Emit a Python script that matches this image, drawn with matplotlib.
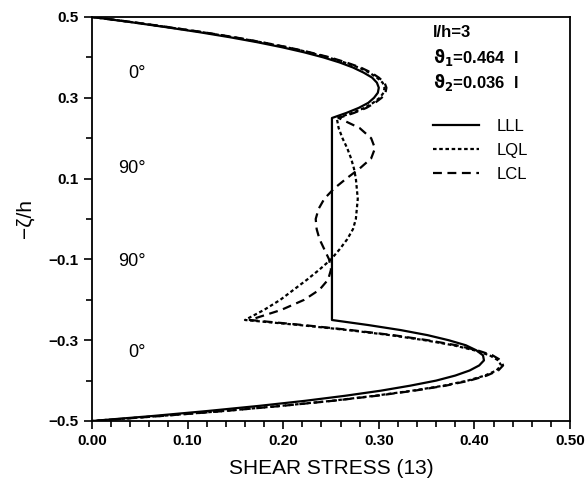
import numpy as np
import matplotlib
matplotlib.use("Agg")
from matplotlib import pyplot as plt
from matplotlib.ticker import MultipleLocator

plt.rcParams['font.family'] = ['Liberation Sans', 'DejaVu Sans']
plt.rcParams['mathtext.fontset'] = 'dejavusans'

# through-thickness coordinate -zeta/h, one array per layer group
y_top = [0.5, 0.4875, 0.475, 0.4625, 0.45, 0.4375, 0.425, 0.4125, 0.4, 0.3875,
         0.375, 0.3625, 0.35, 0.3375, 0.325, 0.3125, 0.3, 0.2875, 0.275, 0.2625, 0.25]
y_mid = [0.25, 0.225, 0.2, 0.175, 0.15, 0.125, 0.1, 0.075, 0.05, 0.025, 0.0,
         -0.025, -0.05, -0.075, -0.1, -0.125, -0.15, -0.175, -0.2, -0.225, -0.25]
y_bot = [-0.25, -0.2625, -0.275, -0.2875, -0.3, -0.3125, -0.325, -0.3375, -0.35, -0.3625,
         -0.375, -0.3875, -0.4, -0.4125, -0.425, -0.4375, -0.45, -0.4625, -0.475, -0.4875, -0.5]

# shear stress (13), LLL model
lll_top = [0.0, 0.040, 0.077, 0.112, 0.144, 0.173, 0.199, 0.222, 0.242, 0.259,
           0.273, 0.284, 0.293, 0.298, 0.300, 0.299, 0.295, 0.289, 0.279, 0.266, 0.251]
lll_mid = [0.251, 0.251, 0.251, 0.251, 0.251, 0.251, 0.251, 0.251, 0.251, 0.251, 0.251,
           0.251, 0.251, 0.251, 0.251, 0.251, 0.251, 0.251, 0.251, 0.251, 0.251]
lll_bot = [0.251, 0.289, 0.323, 0.351, 0.373, 0.391, 0.402, 0.409, 0.410, 0.405,
           0.395, 0.380, 0.360, 0.333, 0.302, 0.265, 0.223, 0.175, 0.122, 0.064, 0.0]

# LQL model
lql_top = [0.0, 0.041, 0.079, 0.115, 0.148, 0.177, 0.204, 0.227, 0.247, 0.264,
           0.279, 0.290, 0.298, 0.304, 0.306, 0.305, 0.301, 0.294, 0.285, 0.272, 0.256]
lql_mid = [0.256, 0.258, 0.262, 0.267, 0.271, 0.274, 0.276, 0.277, 0.278, 0.277, 0.276,
           0.273, 0.267, 0.259, 0.250, 0.238, 0.225, 0.211, 0.197, 0.180, 0.160]
lql_bot = [0.160, 0.217, 0.268, 0.312, 0.348, 0.378, 0.400, 0.416, 0.425, 0.428,
           0.423, 0.411, 0.393, 0.368, 0.335, 0.296, 0.251, 0.198, 0.139, 0.072, 0.0]

# LCL model
lcl_top = [0.0, 0.042, 0.080, 0.116, 0.149, 0.178, 0.205, 0.228, 0.249, 0.266,
           0.281, 0.292, 0.300, 0.306, 0.308, 0.307, 0.303, 0.296, 0.287, 0.274, 0.258]
lcl_mid = [0.258, 0.280, 0.292, 0.296, 0.292, 0.280, 0.266, 0.253, 0.243, 0.237, 0.234,
           0.235, 0.238, 0.243, 0.248, 0.250, 0.247, 0.238, 0.222, 0.198, 0.165]
lcl_bot = [0.165, 0.221, 0.271, 0.315, 0.351, 0.381, 0.403, 0.419, 0.428, 0.430,
           0.425, 0.413, 0.395, 0.370, 0.337, 0.298, 0.252, 0.199, 0.140, 0.073, 0.0]

series = [
    ("LLL", lll_top + lll_mid + lll_bot, '-'),
    ("LQL", lql_top + lql_mid + lql_bot, (0, (1.6, 1.2))),
    ("LCL", lcl_top + lcl_mid + lcl_bot, (0, (4, 2.5))),
]
y_all = y_top + y_mid + y_bot

layer_labels = ["0°", "90°", "90°", "0°"]
layer_y = [0.36, 0.125, -0.105, -0.33]

fig = plt.figure(figsize=(5.87, 4.83), dpi=100)
ax = fig.add_axes([92/587, 1 - 421/483, (570-92)/587, (421-17)/483])

handles = []
for name, xs, ls in series:
    h, = ax.plot(xs, y_all, color='black', lw=1.6, linestyle=ls, label=name)
    handles.append(h)

for lab, yy in zip(layer_labels, layer_y):
    ax.text(0.056, yy, lab, ha='right', va='center', fontsize=13)

info = ["l/h=3",
        r"$\mathbf{\vartheta_1}$=0.464  l",
        r"$\mathbf{\vartheta_2}$=0.036  l"]
info_y = [0.962, 0.899, 0.837]
for s, yy in zip(info, info_y):
    ax.text(0.713, yy, s, transform=ax.transAxes, fontsize=12, fontweight='bold',
            va='center', ha='left')

leg = ax.legend(handles=handles, loc='upper left', bbox_to_anchor=(0.713, 0.748),
                frameon=False, fontsize=12, handlelength=2.8, handletextpad=1.0,
                labelspacing=0.55, borderaxespad=0, borderpad=0)

ax.set_xlim(0, 0.5)
ax.set_ylim(-0.5, 0.5)
ax.xaxis.set_major_locator(MultipleLocator(0.1))
ax.xaxis.set_minor_locator(MultipleLocator(0.02))
ax.yaxis.set_minor_locator(MultipleLocator(0.1))
ax.set_yticks([-0.5, -0.3, -0.1, 0.1, 0.3, 0.5])
ax.xaxis.set_major_formatter(plt.FuncFormatter(lambda v, p: f"{v:.2f}"))
ax.yaxis.set_major_formatter(plt.FuncFormatter(lambda v, p: f"{v:.1f}".replace('-', '\u2212')))
ax.tick_params(which='both', direction='out', width=1.2, labelsize=11)
ax.tick_params(which='major', length=6)
ax.tick_params(which='minor', length=4)
for lab in ax.get_xticklabels() + ax.get_yticklabels():
    lab.set_fontweight('bold')
for sp in ax.spines.values():
    sp.set_linewidth(1.3)

ax.set_xlabel("SHEAR STRESS (13)", fontsize=15, labelpad=8)
ax.set_ylabel("\u2212\u03b6/h", fontsize=15, labelpad=10)

fig.savefig("out.png", dpi=100)
